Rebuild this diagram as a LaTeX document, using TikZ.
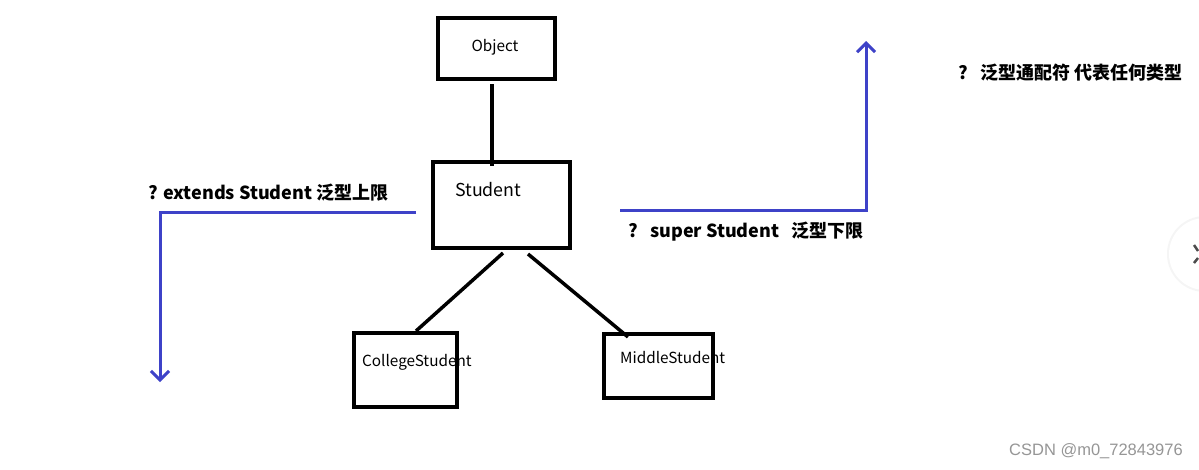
\documentclass[tikz,border=0pt]{standalone}
\usepackage{fontspec}
\setmainfont{Noto Sans CJK SC}
\newfontfamily\wmfont{Liberation Sans}
\usetikzlibrary{arrows.meta}
\definecolor{penblue}{RGB}{62,66,200}
\definecolor{wm}{RGB}{150,150,150}
\tikzset{
  box/.style={draw=black,line width=3.5pt,inner sep=0pt},
  lbl/.style={inner sep=0pt,font=\fontsize{15.3}{18}\selectfont},
  blbl/.style={inner sep=0pt,font=\fontsize{18}{21}\selectfont\bfseries},
  link/.style={line width=3.5pt,black},
  bluearrow/.style={line width=3pt,penblue,-{Straight Barb[length=9pt,width=18pt,line width=3pt]}},
}
\begin{document}
\begin{tikzpicture}[x=1pt,y=-1pt]
\useasboundingbox[fill=white] (0,0) rectangle (1199,469);
% boxes
\node[box,minimum width=117pt,minimum height=61pt] (obj) at (496.5,48.5) {};
\node[box,minimum width=137pt,minimum height=86pt] (stu) at (501.5,205) {};
\node[box,minimum width=103pt,minimum height=74pt] (col) at (405.5,370) {};
\node[box,minimum width=109pt,minimum height=64pt] (mid) at (658.5,366) {};
% box texts
\node[lbl] (objt) at (495,47) {Object};
\node[lbl,font=\fontsize{17.8}{20}\selectfont,anchor=west] (stut) at (455,190) {Student};
\node[lbl,anchor=west] (colt) at (362,362) {CollegeStudent};
\node[lbl,anchor=west] (midt) at (620,358) {MiddleStudent};
% connectors
\coordinate (c1) at (492,84);
\coordinate (c2) at (492,166);
\coordinate (c3) at (503,253);
\coordinate (c4) at (416,331);
\coordinate (c5) at (528,254);
\coordinate (c6) at (628,337);
\draw[link] (c1) -- (c2);
\draw[link] (c3) -- (c4);
\draw[link] (c5) -- (c6);
% blue arrows
\coordinate (l1) at (416,212);
\coordinate (l2) at (160,212);
\coordinate (l3) at (160,382);
\draw[bluearrow] (l1) -- (l2) -- (l3);
\coordinate (r1) at (620,210);
\coordinate (r2) at (866,210);
\coordinate (r3) at (866,41);
\draw[bluearrow] (r1) -- (r2) -- (r3);
% labels
\node[blbl,anchor=west] (ext) at (148,193) {? extends Student 泛型上限};
\node[blbl,anchor=west] (sup) at (628,232) {?\ \ \ super Student\ \ \ 泛型下限};
\node[blbl,anchor=west] (wild) at (958,73) {?\ \ \ 泛型通配符 代表任何类型};
% watermark
\node[inner sep=0pt,anchor=east,text=wm,font=\wmfont\fontsize{16.5}{19}\selectfont] (csdn) at (1183,451) {CSDN @m0\_72843976};
% side button
\begin{scope}
\clip (0,0) rectangle (1199,469);
\fill[gray!8] (1205,254) circle (38pt);
\fill[white] (1205,254) circle (36pt);
\draw[line width=2.5pt,black!70] (1194,245) -- (1198,251);
\draw[line width=2.5pt,black!70] (1194,263) -- (1198,258);
\end{scope}
\end{tikzpicture}
\end{document}
